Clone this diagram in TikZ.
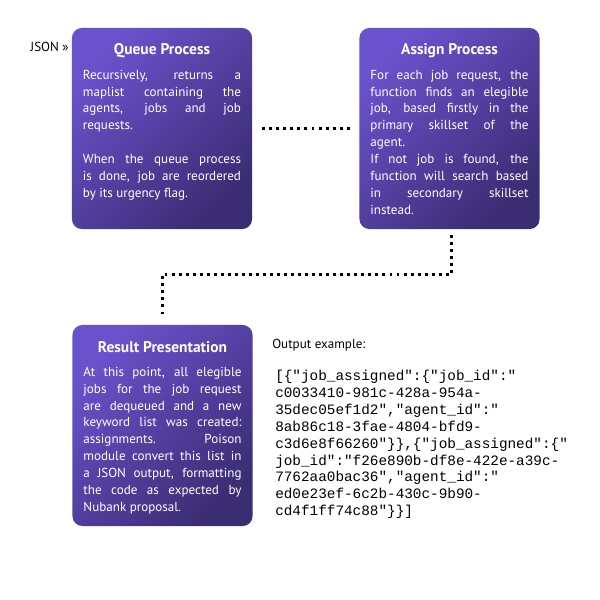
\documentclass[tikz,border=0pt]{standalone}
\usepackage{fontspec}
\setmainfont{PT Sans}
\setmonofont{Liberation Mono}
\definecolor{PBLight}{HTML}{6A52CC}
\definecolor{PBDark}{HTML}{3B2D74}
\usetikzlibrary{positioning,calc}

\begin{document}
\begin{tikzpicture}[x=0.025cm, y=-0.025cm,
    every node/.style={font=\fontsize{9.3}{12}\selectfont},
    procbox/.style={rectangle, rounded corners=7pt, minimum width=4.5cm,
      minimum height=5.025cm, draw=none, top color=PBLight, bottom color=PBDark,
      shading angle=45},
    boxtitle/.style={text=white, font=\fontsize{11}{12}\selectfont\bfseries, inner sep=0pt},
    boxbody/.style={text=white, text width=3.95cm, align=justify, inner sep=0pt, anchor=north},
    conn/.style={line width=2.1pt, dash pattern=on 2.1pt off 2.9pt, black}]
  \useasboundingbox (0,0) rectangle (600,600);

  % process boxes
  \node[procbox] (queue) at (162,128.5) {};
  \node[procbox] (assign) at (449.5,128.5) {};
  \node[procbox] (result) at (162.5,425.5) {};

  \node[anchor=east, inner sep=0pt] (json) at (69,47) {JSON »};

  \node[boxtitle] (queueT) at ([yshift=-0.57cm]queue.north) {Queue Process};
  \node[boxbody] (queueB) at ([yshift=-1.05cm]queue.north)
    {Recursively, returns a\linebreak maplist containing the\linebreak agents, jobs and job\linebreak requests.\par\vspace{12pt}
     When the queue process\linebreak is done, job are reordered\linebreak by its urgency flag.};

  \node[boxtitle] (assignT) at ([yshift=-0.57cm]assign.north) {Assign Process};
  \node[boxbody] (assignB) at ([yshift=-1.05cm]assign.north)
    {For each job request, the\linebreak function finds an elegible\linebreak job, based firstly in the\linebreak primary skillset of the\linebreak agent.\par
     If not job is found, the\linebreak function will search based\linebreak in secondary skillset\linebreak instead.};

  \node[boxtitle] (resultT) at ([yshift=-0.57cm]result.north) {Result Presentation};
  \node[boxbody] (resultB) at ([yshift=-1.05cm]result.north)
    {At this point, all elegible\linebreak jobs for the job request\linebreak are dequeued and a new\linebreak keyword list was created:\linebreak assignments. Poison\linebreak module convert this list in\linebreak a JSON output, formatting\linebreak the code as expected by\linebreak Nubank proposal.};

  % output example
  \node[anchor=north west, inner sep=0pt] (outT) at (272,339) {Output example:};
  \node[anchor=north west, inner sep=0pt, align=left,
        font=\fontsize{10.2}{12}\ttfamily] (outB) at (275,370)
    {[\{"job\_assigned":\{"job\_id":"\\
     c0033410-981c-428a-954a-\\
     35dec05ef1d2","agent\_id":"\\
     8ab86c18-3fae-4804-bfd9-\\
     c3d6e8f66260"\}\},\{"job\_assigned":\{"\\
     job\_id":"f26e890b-df8e-422e-a39c-\\
     7762aa0bac36","agent\_id":"\\
     ed0e23ef-6c2b-430c-9b90-\\
     cd4f1ff74c88"\}\}]};

  % connectors
  \draw[conn, shorten <=0.25cm, shorten >=0.15cm] (queue.east) -- (assign.west);
  \draw[conn, shorten <=0.15cm, shorten >=0.25cm] ([xshift=0.06cm]assign.south) -- ++(0,45) -| (result.north);
\end{tikzpicture}
\end{document}
